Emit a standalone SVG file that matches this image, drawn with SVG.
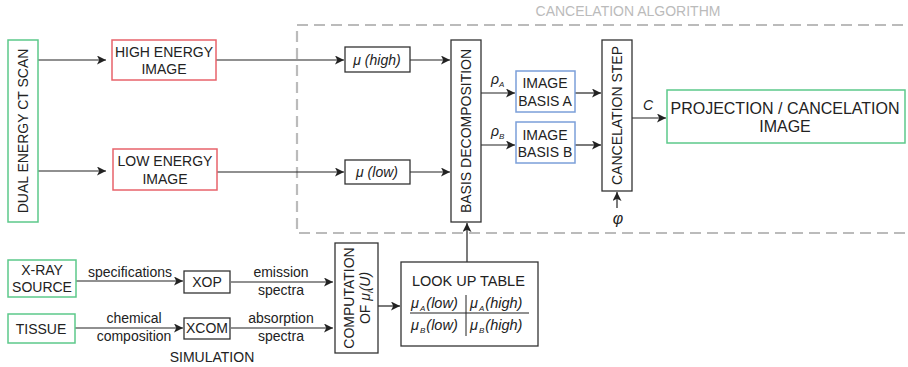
<svg xmlns="http://www.w3.org/2000/svg" width="908" height="367" viewBox="0 0 908 367">
<style>
text{font-family:"Liberation Sans",Arial,sans-serif;fill:#222;font-size:14px}
.box{fill:#fff;stroke:#333;stroke-width:1.3}
.g{fill:#fff;stroke:#5cc98a;stroke-width:1.5}
.r{fill:#fff;stroke:#e8636b;stroke-width:1.5}
.b{fill:#fff;stroke:#7b9fd9;stroke-width:1.5}
.ln{fill:none;stroke:#222;stroke-width:1.2}
.it{font-style:italic}
.m{text-anchor:middle}
.sub{font-size:8px;font-style:italic}
.tb{font-style:italic;font-size:14.5px}
</style>
<defs>
<marker id="ah" viewBox="0 0 10 10" refX="10" refY="5" markerWidth="9" markerHeight="9" markerUnits="userSpaceOnUse" orient="auto">
<path d="M0,0 L10,5 L0,10 L2.5,5 Z" fill="#222"/>
</marker>
</defs>
<g id="cancelation-algorithm">
<path d="M920,25 H297 V233 H920" fill="none" stroke="#bbb" stroke-width="2.2" stroke-dasharray="11,6"/>
<text x="628" y="16" class="m" style="fill:#bbb;font-size:14px">CANCELATION ALGORITHM</text>
</g>
<g id="connectors">
<line class="ln" x1="38" y1="60" x2="106" y2="60" marker-end="url(#ah)"/>
<line class="ln" x1="38" y1="171" x2="106" y2="171" marker-end="url(#ah)"/>
<line class="ln" x1="216" y1="60" x2="344" y2="60" marker-end="url(#ah)"/>
<line class="ln" x1="217" y1="172" x2="344" y2="172" marker-end="url(#ah)"/>
<line class="ln" x1="410" y1="60" x2="450" y2="60" marker-end="url(#ah)"/>
<line class="ln" x1="410" y1="172" x2="450" y2="172" marker-end="url(#ah)"/>
<line class="ln" x1="481" y1="93" x2="515" y2="93" marker-end="url(#ah)"/>
<line class="ln" x1="481" y1="145" x2="515" y2="145" marker-end="url(#ah)"/>
<line class="ln" x1="575" y1="93" x2="601" y2="93" marker-end="url(#ah)"/>
<line class="ln" x1="575" y1="145" x2="601" y2="145" marker-end="url(#ah)"/>
<line class="ln" x1="632" y1="118" x2="666" y2="118" marker-end="url(#ah)"/>
<line class="ln" x1="617" y1="208" x2="617" y2="192" marker-end="url(#ah)"/>
<line class="ln" x1="467" y1="262" x2="467" y2="223" marker-end="url(#ah)"/>
<line class="ln" x1="76" y1="281" x2="183" y2="281" marker-end="url(#ah)"/>
<line class="ln" x1="75" y1="328" x2="183" y2="328" marker-end="url(#ah)"/>
<line class="ln" x1="231" y1="282" x2="333" y2="282" marker-end="url(#ah)"/>
<line class="ln" x1="231" y1="328" x2="333" y2="328" marker-end="url(#ah)"/>
<line class="ln" x1="378" y1="306" x2="400" y2="306" marker-end="url(#ah)"/>
<text x="491" y="84" class="it" style="font-size:14px">ρ<tspan class="sub" dy="3">A</tspan></text>
<text x="491" y="136" class="it" style="font-size:14px">ρ<tspan class="sub" dy="3">B</tspan></text>
<text x="648" y="110" class="it m" style="font-size:14px">C</text>
<text x="618" y="224" class="it m" style="font-size:16px">φ</text>
<text x="130" y="277" class="m">specifications</text>
<text x="134" y="323" class="m">chemical</text>
<text x="134" y="341" class="m">composition</text>
<text x="281" y="277" class="m">emission</text>
<text x="281" y="295" class="m">spectra</text>
<text x="281" y="323" class="m">absorption</text>
<text x="281" y="341" class="m">spectra</text>
<text x="212" y="362" class="m">SIMULATION</text>
</g>
<g id="dual-energy-ct-scan">
<rect class="g" x="8" y="40" width="30" height="182"/>
<text transform="translate(28,131) rotate(-90)" class="m">DUAL ENERGY CT SCAN</text>
</g>
<g id="high-energy-image">
<rect class="r" x="112" y="40" width="104" height="40"/>
<text x="164" y="57" class="m">HIGH ENERGY</text>
<text x="164" y="74" class="m">IMAGE</text>
</g>
<g id="low-energy-image">
<rect class="r" x="113" y="149" width="104" height="41"/>
<text x="165" y="166" class="m">LOW ENERGY</text>
<text x="165" y="184" class="m">IMAGE</text>
</g>
<g id="mu-high">
<rect class="box" x="345" y="47" width="65" height="25"/>
<text x="377" y="65" class="m it">μ (high)</text>
</g>
<g id="mu-low">
<rect class="box" x="345" y="160" width="65" height="24"/>
<text x="377" y="177" class="m it">μ (low)</text>
</g>
<g id="basis-decomposition">
<rect class="box" x="451" y="40" width="30" height="182"/>
<text transform="translate(471,131) rotate(-90)" class="m">BASIS DECOMPOSITION</text>
</g>
<g id="image-basis-a">
<rect class="b" x="516" y="71" width="59" height="41"/>
<text x="545" y="88" class="m">IMAGE</text>
<text x="545" y="106" class="m">BASIS A</text>
</g>
<g id="image-basis-b">
<rect class="b" x="516" y="122" width="59" height="41"/>
<text x="545" y="140" class="m">IMAGE</text>
<text x="545" y="157" class="m">BASIS B</text>
</g>
<g id="cancelation-step">
<rect class="box" x="602" y="40" width="30" height="151"/>
<text transform="translate(622,115.5) rotate(-90)" class="m">CANCELATION STEP</text>
</g>
<g id="projection-cancelation-image">
<rect class="g" x="667" y="90" width="238" height="53"/>
<text x="785" y="114" class="m" style="font-size:16px">PROJECTION / CANCELATION</text>
<text x="785" y="132" class="m" style="font-size:16px">IMAGE</text>
</g>
<g id="x-ray-source">
<rect class="g" x="8" y="260" width="68" height="37"/>
<text x="42" y="275" class="m">X-RAY</text>
<text x="42" y="292" class="m">SOURCE</text>
</g>
<g id="tissue">
<rect class="g" x="8" y="314" width="67" height="29"/>
<text x="41" y="334" class="m">TISSUE</text>
</g>
<g id="xop">
<rect class="box" x="184" y="271" width="46" height="22"/>
<text x="207" y="287" class="m">XOP</text>
</g>
<g id="xcom">
<rect class="box" x="184" y="318" width="46" height="21"/>
<text x="207" y="333" class="m">XCOM</text>
</g>
<g id="computation">
<rect class="box" x="335" y="243" width="43" height="110"/>
<text transform="translate(354,298) rotate(-90)" class="m">COMPUTATION</text>
<text transform="translate(370,298) rotate(-90)" class="m">OF <tspan class="it">μ</tspan><tspan class="sub" dy="3">i</tspan><tspan class="it" dy="-3">(U)</tspan></text>
</g>
<g id="look-up-table">
<rect class="box" x="401" y="262" width="137" height="84"/>
<text x="412" y="286" style="font-size:14.5px">LOOK UP TABLE</text>
<line x1="410" y1="313" x2="529" y2="313" stroke="#222" stroke-width="1.2"/>
<line x1="466" y1="295" x2="466" y2="336" stroke="#222" stroke-width="1"/>
<text x="411" y="308" class="tb">μ<tspan class="sub" dx="1" dy="3">A</tspan><tspan dx="1" dy="-3">(low)</tspan></text>
<text x="470" y="308" class="tb">μ<tspan class="sub" dx="1" dy="3">A</tspan><tspan dx="1" dy="-3">(high)</tspan></text>
<text x="411" y="330" class="tb">μ<tspan class="sub" dx="1" dy="3">B</tspan><tspan dx="1" dy="-3">(low)</tspan></text>
<text x="470" y="330" class="tb">μ<tspan class="sub" dx="1" dy="3">B</tspan><tspan dx="1" dy="-3">(high)</tspan></text>
</g>
</svg>
